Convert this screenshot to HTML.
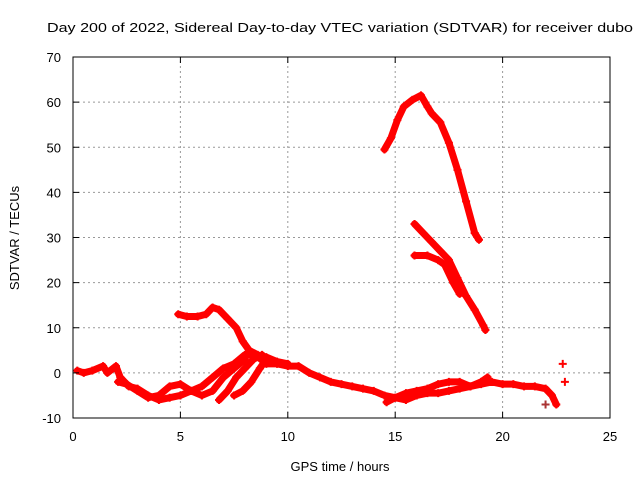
<!DOCTYPE html>
<html><head><meta charset="utf-8"><style>
body{margin:0;background:#fff}
svg text{font-family:"Liberation Sans",sans-serif;font-size:13px;fill:#000}
</style></head><body>
<svg id="chart" width="640" height="480">
<text x="47" y="32" textLength="586" lengthAdjust="spacingAndGlyphs">Day 200 of 2022, Sidereal Day-to-day VTEC variation (SDTVAR) for receiver dubo</text>
<g id="grid"></g><g id="plot"></g><g id="axes"></g>
<text x="340" y="471" text-anchor="middle">GPS time / hours</text>
<text transform="translate(19,238) rotate(-90)" text-anchor="middle">SDTVAR / TECUs</text>
</svg>
<script>
const xTicks=[0,5,10,15,20,25];
const yTicks=[-10,0,10,20,30,40,50,60,70];
const trackLow1=[[0.2,0.5],[0.5,0],[0.9,0.5],[1.4,1.5],[1.6,0],[2.0,1.5],[2.2,-1],[2.6,-3],[3.0,-3.5],[3.5,-5],[4.0,-6],[4.5,-5.5],[5.0,-5],[5.5,-4],[6.0,-3],[6.5,-1],[7.0,1],[7.5,2],[8.0,4],[8.5,4],[9,2],[9.5,2],[10,1.5],[10.5,1.5],[11,0],[11.5,-1],[12,-2],[12.5,-2.5],[13,-3],[13.5,-3.5],[14,-4],[14.5,-5],[15,-5.5],[15.5,-6],[16,-5],[16.5,-4.5],[17,-4.5],[17.5,-4],[18,-3.5],[18.5,-3],[19,-2.5],[19.5,-2],[20,-2.5],[20.5,-2.5],[21,-3],[21.5,-3],[22,-3.5],[22.3,-5],[22.5,-7]];
const trackLow2=[[2.1,-2],[2.5,-2.5],[3,-4],[3.5,-5.5],[4,-5],[4.5,-3],[5,-2.5],[5.5,-4],[6,-5],[6.5,-4],[7,-1],[7.5,1],[8,3]];
const trackBranch1=[[6.8,-6],[7.2,-4],[7.6,-1],[8,1],[8.4,3],[8.8,4]];
const trackBranch2=[[7.5,-5],[7.9,-4],[8.3,-2],[8.7,1],[9,3]];
const trackHump=[[4.9,13],[5.3,12.5],[5.8,12.5],[6.2,13],[6.5,14.5],[6.8,14],[7.2,12],[7.6,10],[7.9,7],[8.2,5],[8.6,4],[9,3.5],[9.5,2.5],[10,2]];
const trackLoop=[[14.6,-6.5],[15,-5.5],[15.5,-4.5],[16,-4],[16.5,-3.5],[17,-2.5],[17.5,-2],[18,-2],[18.5,-3],[19,-2],[19.3,-1]];
const trackArc=[[14.5,49.5],[14.8,52],[15.1,56],[15.4,59],[15.8,60.5],[16.2,61.5],[16.5,59],[16.7,57.5],[17.1,55.5],[17.5,51],[17.9,45],[18.3,38],[18.7,31],[18.9,29.5]];
const track33=[[15.9,33],[16.3,31],[16.7,29],[17.1,27],[17.5,25],[17.9,21],[18.3,17],[18.7,14],[19.1,10.5],[19.2,9.5]];
const track26=[[15.9,26],[16.5,26],[17,25],[17.3,24],[17.7,20],[18,17.5]];
const strays=[[22.8,2],[22.9,-2],[22,-7]];
const tracks=[trackLow1,trackLow2,trackBranch1,trackBranch2,trackHump,trackLoop,trackArc,track33,track26];
const X0=73,X1=610,Y0=418,Y1=57;
const sx=v=>X0+(v-0)/(25-0)*(X1-X0);
const sy=v=>Y0-(v+10)/(80)*(Y0-Y1);
const NS="http://www.w3.org/2000/svg";
function mk(t,a,p){const e=document.createElementNS(NS,t);for(const k in a)e.setAttribute(k,a[k]);p.appendChild(e);return e;}
const grid=document.getElementById('grid'),plot=document.getElementById('plot'),axes=document.getElementById('axes');
xTicks.forEach(t=>{
 if(t>0&&t<25){const g=mk('line',{x1:sx(t),x2:sx(t),y1:Y0,y2:Y1,stroke:'#999','stroke-dasharray':'2,3'},grid);
 
 }
 const l=mk('text',{x:sx(t),y:Y0+23,'text-anchor':'middle'},axes);l.textContent=t;
 
 
 mk('line',{x1:sx(t),x2:sx(t),y1:Y0,y2:Y0-6,stroke:'#000'},axes);
 mk('line',{x1:sx(t),x2:sx(t),y1:Y1,y2:Y1+6,stroke:'#000'},axes);
});
yTicks.forEach(t=>{
 if(t>-10&&t<70){const g=mk('line',{x1:X0,x2:X1,y1:sy(t),y2:sy(t),stroke:'#999','stroke-dasharray':'2,3'},grid);
 
 }
 const l=mk('text',{x:X0-12,y:sy(t)+5,'text-anchor':'end'},axes);l.textContent=t;
 
 
 mk('line',{x1:X0,x2:X0+6,y1:sy(t),y2:sy(t),stroke:'#000'},axes);
 mk('line',{x1:X1,x2:X1-6,y1:sy(t),y2:sy(t),stroke:'#000'},axes);
});
const fr=mk('rect',{x:X0,y:Y1,width:X1-X0,height:Y0-Y1,fill:'none',stroke:'#000'},axes);


function plus(x,y,c){mk('path',{d:`M${x-4},${y}h8M${x},${y-4}v8`,stroke:c,'stroke-width':2},plot);}
tracks.forEach(tr=>{
 const pl=mk('polyline',{points:tr.map(p=>sx(p[0])+','+sy(p[1])).join(' '),fill:'none',stroke:'#f00','stroke-width':7,'stroke-linejoin':'round','stroke-linecap':'round'},plot);
 
 
 tr.forEach(p=>plus(sx(p[0]),sy(p[1]),'#f00'));
});
strays.forEach((p,i)=>plus(sx(p[0]),sy(p[1]),i==2?'#a33':'#f00'));
</script>
</body></html>
